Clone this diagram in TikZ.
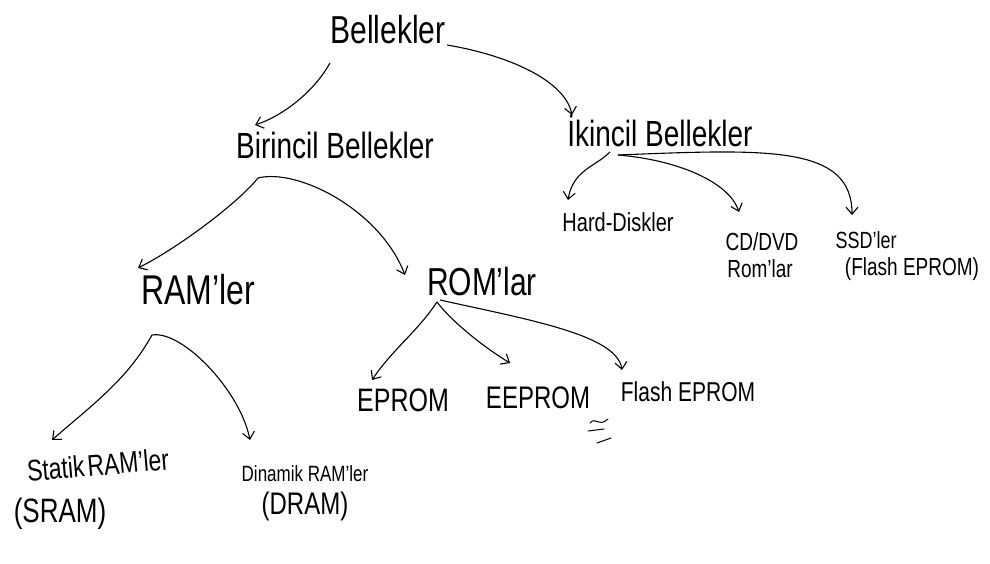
\documentclass[tikz,border=0pt]{standalone}
\usepackage{graphicx}
\usepackage{fontspec}
\setmainfont{Liberation Sans}
\usetikzlibrary{arrows.meta}
% taller, narrower lettering like pen writing
\newcommand\penwrite[1]{\scalebox{1}[1.3]{#1}}
\begin{document}
\begin{tikzpicture}[x=1pt,y=1pt,
  lbl/.style={inner sep=0pt,anchor=center},
  arr/.style={line width=1.1pt,-{Straight Barb[length=7pt,width=12pt]}}]
\useasboundingbox[fill=white] (0,0) rectangle (990,-564);

% labels
\node[lbl,font=\fontsize{30}{32}\selectfont] (bel) at (388,-30) {\penwrite{Bellekler}};
\node[lbl,font=\fontsize{28}{30}\selectfont] (bir) at (335,-145) {\penwrite{Birincil Bellekler}};
\node[lbl,font=\fontsize{28}{30}\selectfont] (iki) at (660,-131) {\penwrite{İkincil Bellekler}};
\node[lbl,font=\fontsize{20}{22}\selectfont] (hdd) at (618,-222) {\penwrite{Hard-Diskler}};
\node[lbl,font=\fontsize{19}{21}\selectfont] (cd) at (762,-242) {\penwrite{CD/DVD}};
\node[lbl,font=\fontsize{19}{21}\selectfont] (cdr) at (760,-269) {\penwrite{Rom'lar}};
\node[lbl,font=\fontsize{18}{20}\selectfont] (ssd) at (866,-240) {\penwrite{SSD'ler}};
\node[lbl,font=\fontsize{19}{21}\selectfont] (ssdf) at (912,-269) {\penwrite{(Flash EPROM)}};
\node[lbl,font=\fontsize{32}{34}\selectfont] (ram) at (198,-290) {\penwrite{RAM'ler}};
\node[lbl,font=\fontsize{30}{32}\selectfont] (rom) at (482,-282) {\penwrite{ROM'lar}};
\node[lbl,font=\fontsize{25}{27}\selectfont] (eprom) at (403,-400) {\penwrite{EPROM}};
\node[lbl,font=\fontsize{24}{26}\selectfont] (eeprom) at (538,-398) {\penwrite{EEPROM}};
\node[lbl,font=\fontsize{21}{23}\selectfont] (flash) at (688,-392) {\penwrite{Flash EPROM}};
\node[lbl,font=\fontsize{23}{25}\selectfont,rotate=5] (stat) at (98,-465) {\penwrite{Statik\hspace{3pt}RAM'ler}};
\node[lbl,font=\fontsize{26}{28}\selectfont] (sram) at (60,-514) {\penwrite{(SRAM)}};
\node[lbl,font=\fontsize{17}{19}\selectfont] (din) at (305,-474) {\penwrite{Dinamik RAM'ler}};
\node[lbl,font=\fontsize{24}{26}\selectfont] (dram) at (305,-506) {\penwrite{(DRAM)}};

% connectors
\draw[arr] ([shift={(-58,-33)}]bel.center) .. controls +(-15,-27) and +(30,10) .. ([shift={(-80,20)}]bir.center);
\draw[arr] ([shift={(59,-15)}]bel.center) .. controls +(60,-10) and +(-7,35) .. ([shift={(-88,16)}]iki.center);

\draw[arr] ([shift={(-77,-33)}]bir.center) .. controls +(-20,-25) and +(40,20) .. ([shift={(-60,22)}]ram.center);
\draw[arr] ([shift={(-77,-33)}]bir.center) .. controls +(40,10) and +(-25,65) .. ([shift={(-77,7)}]rom.center);

\draw[arr] ([shift={(-46,-45)}]ram.center) .. controls +(-25,-45) and +(40,35) .. ([shift={(-46,25)}]stat.center);
\draw[arr] ([shift={(-46,-45)}]ram.center) .. controls +(30,5) and +(-10,50) .. ([shift={(-55,34)}]din.center);

\draw[arr] ([shift={(-45,-20)}]rom.center) .. controls +(-20,-30) and +(20,30) .. ([shift={(-31,20)}]eprom.center);
\draw[arr] ([shift={(-45,-20)}]rom.center) .. controls +(15,-20) and +(-25,15) .. ([shift={(-28,35)}]eeprom.center);
\draw[arr] ([shift={(-42,-18)}]rom.center) .. controls +(90,-20) and +(-5,35) .. ([shift={(-66,22)}]flash.center);

\draw[arr] ([shift={(-50,-21)}]iki.center) .. controls +(-15,-15) and +(5,30) .. ([shift={(-50,22)}]hdd.center);
\draw[arr] ([shift={(-42,-24)}]iki.center) .. controls +(60,-5) and +(-10,30) .. ([shift={(-23,30)}]cd.center);
\draw[arr] ([shift={(-42,-24)}]iki.center) .. controls +(150,6) and +(0,70) .. ([shift={(-14,25)}]ssd.center);

% small mark under Flash EPROM
\draw[line width=1pt,line cap=round] (590,-423) .. controls (596,-416) and (598,-428) .. (608,-419);
\draw[line width=1pt,line cap=round] (588,-431) -- (604,-429);
\draw[line width=1pt,line cap=round] (597,-443) -- (611,-438);
\end{tikzpicture}
\end{document}
